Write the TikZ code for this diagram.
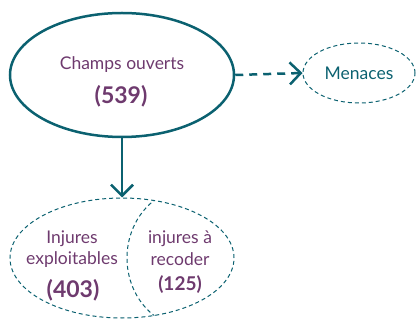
\documentclass[tikz,border=0pt]{standalone}
\usepackage{fontspec}
\setmainfont{Lato}
\usetikzlibrary{shapes.geometric,arrows.meta}
\definecolor{teal1}{HTML}{0B6170}
\definecolor{purp}{HTML}{6E3A6E}
\tikzset{
  txt/.style={text=purp, align=center, font=\fontsize{17.5}{21.5}\selectfont},
  num/.style={text=purp, font=\fontsize{23}{25}\selectfont\bfseries},
  numsmall/.style={text=purp, font=\fontsize{19}{21}\selectfont\bfseries},
  bigell/.style={draw=teal1, line width=2.5pt, ellipse, inner sep=0pt},
  dashell/.style={draw=teal1, line width=1pt, dash pattern=on 4pt off 3pt},
  arr/.style={draw=teal1, line width=2.5pt, -{Straight Barb[length=11pt,width=22pt,line width=2.5pt]}},
}
\begin{document}
\begin{tikzpicture}[x=1pt,y=-1pt]
\useasboundingbox (0,0) rectangle (417,320);
\node[bigell, minimum width=224pt, minimum height=124pt] (champs) at (122,75) {};
\node[txt] (champsT) at (122,65) {Champs ouverts};
\node[num] (champsN) at (121,96) {(539)};
\node[dashell, ellipse, minimum width=112pt, minimum height=60pt, inner sep=0pt, text=teal1, font=\fontsize{17.5}{21}\selectfont] (menaces) at (359,73) {Menaces};
\draw[arr, dash pattern=on 8pt off 6pt] (champs.east) -- (menaces.west);
\node[dashell, ellipse, minimum width=224pt, minimum height=120pt, inner sep=0pt] (inj) at (122,258) {};
\begin{scope}
\clip (122,258) ellipse [x radius=112pt, y radius=60pt];
\draw[dashell] (190,258) ellipse [x radius=63pt, y radius=70pt];
\end{scope}
\draw[arr] (champs.south) -- (inj.north);
\node[txt] (injT) at (72,249) {Injures\\exploitables};
\node[num] (injN) at (73,290) {(403)};
\node[txt] (recT) at (180,248) {injures à\\recoder};
\node[numsmall] (recN) at (180,285) {(125)};
\end{tikzpicture}
\end{document}
